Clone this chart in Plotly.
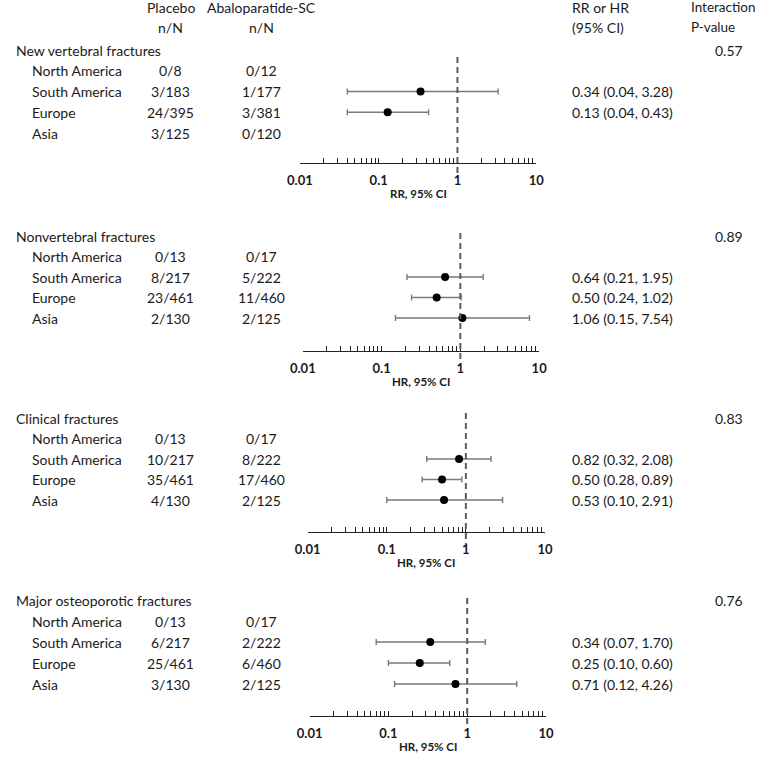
import plotly.graph_objects as go

# ---------------- data ----------------
PANEL_TITLES = ["New vertebral fractures", "Nonvertebral fractures",
                "Clinical fractures", "Major osteoporotic fractures"]
REGIONS = ["North America", "South America", "Europe", "Asia"]
AXIS_TITLES = ["RR, 95% CI", "HR, 95% CI", "HR, 95% CI", "HR, 95% CI"]
P_VALUES = ["0.57", "0.89", "0.83", "0.76"]

PLACEBO_NN = [
    ["0/8", "3/183", "24/395", "3/125"],
    ["0/13", "8/217", "23/461", "2/130"],
    ["0/13", "10/217", "35/461", "4/130"],
    ["0/13", "6/217", "25/461", "3/130"],
]
ABALO_NN = [
    ["0/12", "1/177", "3/381", "0/120"],
    ["0/17", "5/222", "11/460", "2/125"],
    ["0/17", "8/222", "17/460", "2/125"],
    ["0/17", "2/222", "6/460", "2/125"],
]
EST = [
    [None, 0.34, 0.13, None],
    [None, 0.64, 0.50, 1.06],
    [None, 0.82, 0.50, 0.53],
    [None, 0.34, 0.25, 0.71],
]
LOWER = [
    [None, 0.04, 0.04, None],
    [None, 0.21, 0.24, 0.15],
    [None, 0.32, 0.28, 0.10],
    [None, 0.07, 0.10, 0.12],
]
UPPER = [
    [None, 3.28, 0.43, None],
    [None, 1.95, 1.02, 7.54],
    [None, 2.08, 0.89, 2.91],
    [None, 1.70, 0.60, 4.26],
]
TICK_VALUES = [0.01, 0.1, 1, 10]
TICK_LABELS = ["0.01", "0.1", "1", "10"]

# ---------------- layout params (pixels) ----------------
W, H = 765, 761
FONT = "Lato, Calibri, Carlito, sans-serif"
TXT = "#1a1a1a"
# title row px, row step px, axis line px, x of 0.01, x of 10, dash top, dash bottom
PANELS = [
    dict(title=50, step=20.75, axis=163, x0=295, x1=538, dtop=57, dbot=174),
    dict(title=236, step=20.5, axis=351, x0=298, x1=541, dtop=233, dbot=362),
    dict(title=418, step=20.5, axis=532, x0=303, x1=547, dtop=413, dbot=544),
    dict(title=600, step=21.0, axis=716, x0=305, x1=548, dtop=598, dbot=728),
]
X_PLACEBO = 162
X_ABALO = 255
X_EST = 573
X_P = 736
X_INT = 695
X_REGION = 17
X_TITLE = 1


def py(px):
    return 1 - px / H


def pxx(px):
    return px / W


fig = go.Figure()
annotations = []
shapes = []

# log-axis tick positions (decades labelled, 2..9 unlabelled)
all_ticks = []
for d in [0.01, 0.1, 1]:
    for m in range(1, 10):
        all_ticks.append(round(d * m, 4))
all_ticks.append(10)
all_text = [TICK_LABELS[TICK_VALUES.index(v)] if v in TICK_VALUES else "" for v in all_ticks]

for i, p in enumerate(PANELS):
    n = "" if i == 0 else str(i + 1)
    xa, ya = "x" + n, "y" + n
    step = p["step"]
    r_bottom = (p["axis"] - p["title"]) / step
    r_top = -18 / step
    fig.update_layout(**{
        "xaxis" + n: dict(
            type="log", range=[-2, 1], domain=[pxx(p["x0"]), pxx(p["x1"])],
            anchor=ya, showline=True, linecolor="#222222", linewidth=1.3,
            ticks="inside", ticklen=5, tickwidth=1, tickcolor="#222222",
            tickvals=all_ticks, ticktext=all_text, showgrid=False, zeroline=False,
            tickfont=dict(family=FONT, size=13, color=TXT, weight="bold"),
            ticklabelstandoff=5, fixedrange=True,
        ),
        "yaxis" + n: dict(
            domain=[py(p["axis"]), py(p["title"] - 18)],
            range=[r_bottom, r_top], visible=False, anchor=xa, fixedrange=True,
        ),
    })

    # CI + point estimates
    rows = [k + 1 for k in range(4) if EST[i][k] is not None]
    est = [EST[i][k] for k in range(4) if EST[i][k] is not None]
    lo = [LOWER[i][k] for k in range(4) if EST[i][k] is not None]
    hi = [UPPER[i][k] for k in range(4) if EST[i][k] is not None]
    fig.add_trace(go.Scatter(
        x=est, y=rows, xaxis=xa, yaxis=ya, mode="markers",
        marker=dict(color="black", size=8),
        error_x=dict(type="data", symmetric=False,
                     array=[h - e for h, e in zip(hi, est)],
                     arrayminus=[e - l for e, l in zip(est, lo)],
                     color="#7a7a7a", thickness=1.4, width=3),
        showlegend=False, hoverinfo="skip",
    ))

    # dashed reference line at 1
    shapes.append(dict(type="line", xref=xa, yref="paper", x0=1, x1=1,
                       y0=py(p["dtop"]), y1=py(p["dbot"]),
                       line=dict(color="#5a5a5a", width=2, dash="6px,4px"),
                       layer="above"))

    # panel title and p-value
    annotations.append(dict(text=PANEL_TITLES[i], xref="paper", yref=ya, x=pxx(X_TITLE), y=0,
                            xanchor="left", yanchor="middle", showarrow=False,
                            font=dict(family=FONT, size=14, color=TXT)))
    annotations.append(dict(text=P_VALUES[i], xref="paper", yref=ya, x=pxx(X_P), y=0,
                            xanchor="center", yanchor="middle", showarrow=False,
                            font=dict(family=FONT, size=14, color=TXT)))
    for k in range(4):
        r = k + 1
        annotations.append(dict(text=REGIONS[k], xref="paper", yref=ya, x=pxx(X_REGION), y=r,
                                xanchor="left", yanchor="middle", showarrow=False,
                                font=dict(family=FONT, size=14, color=TXT)))
        annotations.append(dict(text=PLACEBO_NN[i][k], xref="paper", yref=ya, x=pxx(X_PLACEBO), y=r,
                                xanchor="center", yanchor="middle", showarrow=False,
                                font=dict(family=FONT, size=14, color=TXT)))
        annotations.append(dict(text=ABALO_NN[i][k], xref="paper", yref=ya, x=pxx(X_ABALO), y=r,
                                xanchor="center", yanchor="middle", showarrow=False,
                                font=dict(family=FONT, size=14, color=TXT)))
        if EST[i][k] is not None:
            s = f"{EST[i][k]:.2f} ({LOWER[i][k]:.2f}, {UPPER[i][k]:.2f})"
            annotations.append(dict(text=s, xref="paper", yref=ya, x=pxx(X_EST), y=r,
                                    xanchor="left", yanchor="middle", showarrow=False,
                                    font=dict(family=FONT, size=14, color=TXT)))
    # axis title
    annotations.append(dict(text=AXIS_TITLES[i], xref=xa + " domain", yref="paper", x=0.5,
                            y=py(p["axis"] + 30), xanchor="center", yanchor="middle",
                            showarrow=False,
                            font=dict(family=FONT, size=11.5, color=TXT, weight="bold")))

# column headers
HEADERS = [
    ("Placebo", X_PLACEBO, 7, "center", 14), ("n/N", X_PLACEBO, 27, "center", 14),
    ("Abaloparatide-SC", X_ABALO, 7, "center", 14), ("n/N", X_ABALO, 27, "center", 14),
    ("RR or HR", X_EST, 7, "left", 14), ("(95% CI)", X_EST, 27, "left", 14),
    ("Interaction", X_INT, 7, "left", 13.5), ("P-value", X_INT, 27, "left", 13.5),
]
for t, x, y, anc, fs in HEADERS:
    annotations.append(dict(text=t, xref="paper", yref="paper", x=pxx(x), y=py(y),
                            xanchor=anc, yanchor="middle", showarrow=False,
                            font=dict(family=FONT, size=fs, color=TXT)))

fig.update_layout(
    width=W, height=H, margin=dict(l=0, r=0, t=0, b=0),
    paper_bgcolor="white", plot_bgcolor="white",
    annotations=annotations, shapes=shapes, showlegend=False,
)
fig.write_html("out.html", config={"displayModeBar": False, "staticPlot": True},
               post_script="document.body.style.margin='0';document.body.style.overflow='hidden';")
